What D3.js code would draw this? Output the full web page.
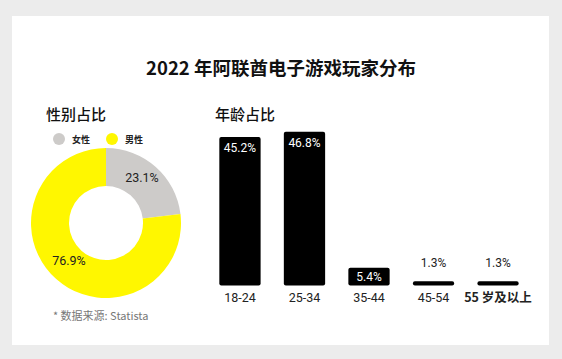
<!DOCTYPE html>
<html>
<head>
<meta charset="utf-8">
<script src="https://cdn.jsdelivr.net/npm/d3@7"></script>
<style>
  html, body { margin: 0; padding: 0; background: #ececec; }
  svg { display: block; font-family: "Noto Sans CJK SC", "Noto Sans", sans-serif; }
</style>
</head>
<body>
<svg id="chart"></svg>
<script>
var width = 562
var height = 359

// gender share
var genders = ["女性", "男性"]
var genderValues = [23.1, 76.9]
var genderColors = ["#cdcbc9", "#fff700"]

// age share
var ages = ["18-24", "25-34", "35-44", "45-54", "55 岁及以上"]
var ageValues = [45.2, 46.8, 5.4, 1.3, 1.3]

const svg = d3.select("#chart")
  .attr("width", width)
  .attr("height", height)

// card
svg.append("rect")
  .attr("x", 12).attr("y", 16)
  .attr("width", 537).attr("height", 329)
  .attr("fill", "#fff")

svg.append("text")
  .attr("x", 281).attr("y", 75)
  .attr("text-anchor", "middle")
  .attr("font-size", 18.5)
  .attr("font-weight", 600)
  .attr("fill", "#111")
  .text("2022 年阿联酋电子游戏玩家分布")

svg.append("text")
  .attr("x", 46).attr("y", 120)
  .attr("font-size", 15)
  .attr("font-weight", 500)
  .attr("fill", "#111")
  .text("性别占比")

svg.append("text")
  .attr("x", 215).attr("y", 120)
  .attr("font-size", 15)
  .attr("font-weight", 500)
  .attr("fill", "#111")
  .text("年龄占比")

// legend
var legendX = [59, 112]
genders.forEach(function(g, i) {
  svg.append("circle")
    .attr("cx", legendX[i]).attr("cy", 139).attr("r", 6)
    .attr("fill", genderColors[i])
  svg.append("text")
    .attr("x", legendX[i] + 13).attr("y", 142.5)
    .attr("font-size", 9)
    .attr("font-weight", 700)
    .attr("fill", "#222")
    .text(g)
})

// donut
var pie = d3.pie().sort(null).value(d => d)
var arc = d3.arc().innerRadius(37).outerRadius(75)
var arcs = pie(genderValues)

const gPie = svg.append("g")
  .attr("transform", "translate(106,223)")

gPie.selectAll("path")
  .data(arcs)
  .enter()
  .append("path")
  .attr("d", arc)
  .attr("fill", (d, i) => genderColors[i])

var labelPos = [[36, -41], [-37, 42]]
gPie.selectAll("text.pct")
  .data(arcs)
  .enter()
  .append("text")
  .attr("class", "pct")
  .attr("x", (d, i) => labelPos[i][0])
  .attr("y", (d, i) => labelPos[i][1])
  .attr("text-anchor", "middle")
  .attr("font-size", 12.5)
  .attr("font-family", "Roboto, sans-serif")
  .attr("fill", "#222")
  .text(d => d.data + "%")

svg.append("text")
  .attr("x", 53).attr("y", 320)
  .attr("font-size", 11)
  .attr("fill", "#777")
  .text("* 数据来源: Statista")

// bars
x = d3.scaleBand()
  .domain(ages)
  .range([209, 529])
  .paddingInner(0.36)
  .paddingOuter(0.16)

y = d3.scaleLinear()
  .domain([0, 46.8])
  .range([285.5, 131.7])

const gBar = svg.append("g")

gBar.selectAll("rect")
  .data(ageValues)
  .enter()
  .append("rect")
  .attr("x", (d, i) => x(ages[i]))
  .attr("y", d => y(d))
  .attr("width", x.bandwidth())
  .attr("height", d => y(0) - y(d))
  .attr("rx", 2)
  .attr("fill", "#000")

gBar.selectAll("text.val")
  .data(ageValues)
  .enter()
  .append("text")
  .attr("class", "val")
  .attr("x", (d, i) => x(ages[i]) + x.bandwidth() / 2)
  .attr("y", d => d >= 5 ? y(d) + (d > 10 ? 15 : 13.5) : y(d) - 14)
  .attr("text-anchor", "middle")
  .attr("font-size", 12)
  .attr("font-family", "Roboto, sans-serif")
  .attr("fill", d => d >= 5 ? "#fff" : "#222")
  .text(d => d + "%")

gBar.selectAll("text.cat")
  .data(ages)
  .enter()
  .append("text")
  .attr("class", "cat")
  .attr("x", d => x(d) + x.bandwidth() / 2)
  .attr("y", 302)
  .attr("text-anchor", "middle")
  .attr("font-size", 12.5)
  .attr("font-weight", (d, i) => i == 4 ? 700 : 400)
  .attr("font-family", (d, i) => i == 4 ? "Noto Sans CJK SC, sans-serif" : "Roboto, sans-serif")
  .attr("fill", "#222")
  .text(d => d)
</script>
</body>
</html>
